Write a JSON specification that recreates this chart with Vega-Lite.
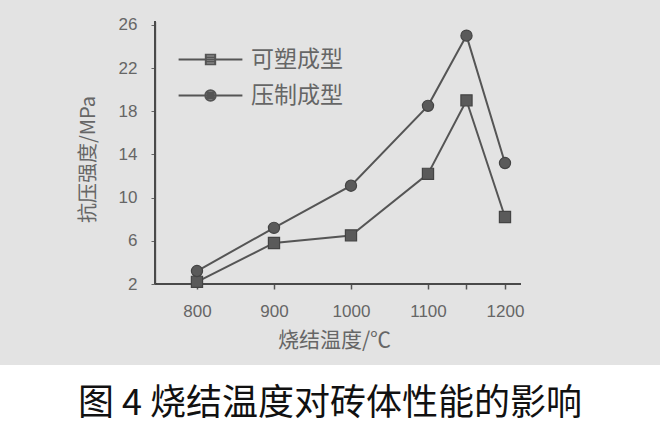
{
  "$schema": "https://vega.github.io/schema/vega-lite/v6.json",
  "width": 660,
  "height": 365,
  "padding": {"left": 0, "top": 0, "right": 0, "bottom": 20},
  "background": "white",
  "config": {
    "view": {"fill": "#e3e3e3", "stroke": null},
    "font": "Liberation Sans"
  },
  "title": {
    "text": "图 4  烧结温度对砖体性能的影响",
    "orient": "bottom",
    "anchor": "middle",
    "offset": 22,
    "font": "Noto Sans CJK SC",
    "fontSize": 36,
    "fontWeight": "normal",
    "color": "#111111"
  },
  "data": {
    "values": [
      {"T": 800, "S": 2.2, "series": "可塑成型"},
      {"T": 900, "S": 5.8, "series": "可塑成型"},
      {"T": 1000, "S": 6.5, "series": "可塑成型"},
      {"T": 1100, "S": 12.2, "series": "可塑成型"},
      {"T": 1150, "S": 19.0, "series": "可塑成型"},
      {"T": 1200, "S": 8.2, "series": "可塑成型"},
      {"T": 800, "S": 3.2, "series": "压制成型"},
      {"T": 900, "S": 7.2, "series": "压制成型"},
      {"T": 1000, "S": 11.1, "series": "压制成型"},
      {"T": 1100, "S": 18.5, "series": "压制成型"},
      {"T": 1150, "S": 25.0, "series": "压制成型"},
      {"T": 1200, "S": 13.2, "series": "压制成型"}
    ]
  },
  "layer": [
    {
      "mark": {"type": "rule", "stroke": "#4a4a4a", "strokeWidth": 2},
      "encoding": {
        "x": {"datum": 745.5, "type": "quantitative", "scale": {"domain": [544.2, 1401.3], "nice": false, "zero": false}},
        "x2": {"datum": 1220},
        "y": {"datum": 2, "type": "quantitative", "scale": {"domain": [-5.5, 28.3], "nice": false, "zero": false}}
      }
    },
    {
      "mark": {"type": "rule", "stroke": "#4a4a4a", "strokeWidth": 2},
      "encoding": {
        "x": {"datum": 745.5, "type": "quantitative"},
        "y": {"datum": 2, "type": "quantitative"},
        "y2": {"datum": 26.3}
      }
    },
    {
      "mark": {"type": "line", "stroke": "#555555", "strokeWidth": 2},
      "encoding": {
        "x": {
          "field": "T", "type": "quantitative",
          "scale": {"domain": [544.2, 1401.3], "nice": false, "zero": false},
          "axis": {
            "orient": "bottom", "offset": -81, "domain": false, "grid": false,
            "values": [800, 900, 1000, 1100, 1150, 1200],
            "labelExpr": "datum.value % 100 === 0 ? datum.label : ''",
            "format": "d",
            "tickSize": 5, "tickColor": "#555555", "tickWidth": 1.5,
            "labelFontSize": 17, "labelColor": "#666666", "labelPadding": 14,
            "title": "烧结温度/℃", "titleFont": "Noto Sans CJK SC", "titleFontSize": 21,
            "titleFontWeight": "normal", "titleColor": "#666666",
            "titleX": 334, "titleY": 56, "titleAlign": "center", "titleBaseline": "middle"
          }
        },
        "y": {
          "field": "S", "type": "quantitative",
          "scale": {"domain": [-5.5, 28.3], "nice": false, "zero": false},
          "axis": {
            "orient": "left", "offset": -155, "domain": false, "grid": false,
            "values": [2, 2.5, 3, 3.5, 4, 4.5, 5, 5.5, 6, 6.5, 7, 7.5, 8, 8.5, 9, 9.5, 10, 10.5, 11, 11.5, 12, 12.5, 13, 13.5, 14, 14.5, 15, 15.5, 16, 16.5, 17, 17.5, 18, 18.5, 19, 19.5, 20, 20.5, 21, 21.5, 22, 22.5, 23, 23.5, 24, 24.5, 25, 25.5, 26],
            "labelExpr": "datum.value % 4 === 2 ? datum.label : ''",
            "tickSize": 4, "tickColor": "#666666", "tickWidth": 1,
            "labelFontSize": 17, "labelColor": "#666666", "labelPadding": 14,
            "title": "抗压强度/MPa", "titleFont": "Noto Sans CJK SC", "titleFontSize": 20,
            "titleFontWeight": "normal", "titleColor": "#666666", "titleAngle": -90,
            "titleX": -67, "titleY": 159, "titleAlign": "center", "titleBaseline": "middle"
          }
        },
        "detail": {"field": "series"}
      }
    },
    {
      "mark": {"type": "point", "filled": true, "fill": "#5a5a5a", "stroke": "#444444", "strokeWidth": 1.2, "opacity": 1, "size": 125},
      "encoding": {
        "x": {"field": "T", "type": "quantitative"},
        "y": {"field": "S", "type": "quantitative"},
        "shape": {"condition": {"test": "datum.series === '可塑成型'", "value": "square"}, "value": "circle"}
      }
    },
    {
      "mark": {"type": "point", "filled": false, "stroke": "#555555", "strokeWidth": 2, "opacity": 1, "size": 0},
      "encoding": {
        "x": {"field": "T", "type": "quantitative"},
        "y": {"field": "S", "type": "quantitative"},
        "shape": {
          "field": "series", "type": "nominal",
          "scale": {
            "domain": ["可塑成型", "压制成型"],
            "range": [
              "M-5.8,0H5.8M-0.85,-0.85H0.85V0.85H-0.85ZM-0.85,-0.43H0.85M-0.85,0.43H0.85",
              "M-5.8,0H5.8M-0.95,0A0.95,0.95,0,1,0,0.95,0A0.95,0.95,0,1,0,-0.95,0ZM-0.55,0A0.55,0.55,0,1,0,0.55,0A0.55,0.55,0,1,0,-0.55,0ZM-0.18,0A0.18,0.18,0,1,0,0.18,0A0.18,0.18,0,1,0,-0.18,0Z"
            ]
          },
          "legend": {
            "orient": "none", "legendX": 199, "legendY": 48, "title": null,
            "padding": 0, "symbolSize": 121, "labelOffset": 29, "rowPadding": 12,
            "labelFont": "Noto Sans CJK SC", "labelFontSize": 23, "labelColor": "#666666",
            "symbolStrokeColor": "#555555", "symbolStrokeWidth": 2,
            "symbolOpacity": 1
          }
        }
      }
    }
  ]
}
